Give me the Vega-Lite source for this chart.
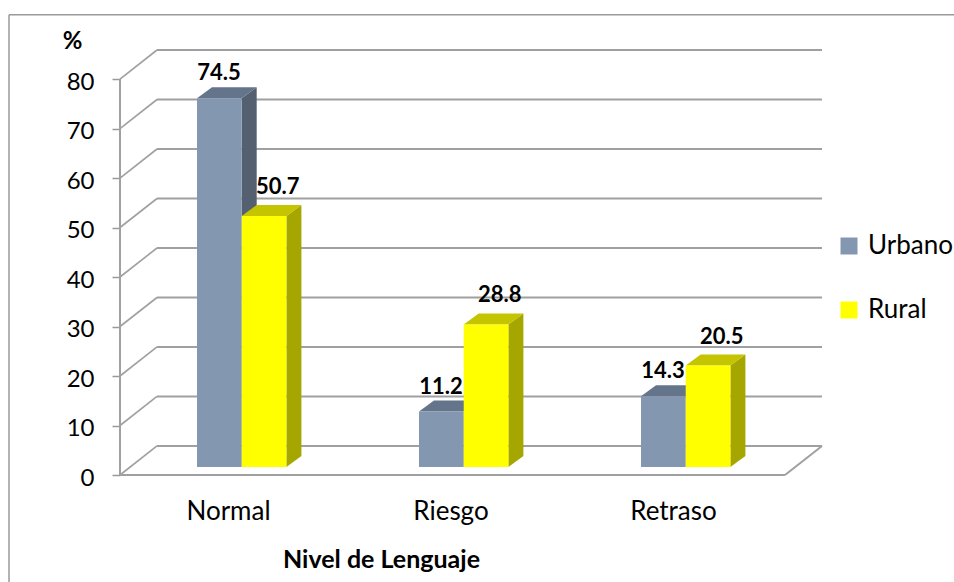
{
"$schema":"https://vega.github.io/schema/vega-lite/v6.json",
"width":702,"height":425,
"autosize":{"type":"none"},
"padding":{"left":120,"top":50,"right":132,"bottom":107},
"background":"white",
"config":{"view":{"stroke":null},"font":"Lato"},
"datasets":{
"bars":[
{"nivel":"Normal","serie":"Urbano","valor":74.5},
{"nivel":"Normal","serie":"Rural","valor":50.7},
{"nivel":"Riesgo","serie":"Urbano","valor":11.2},
{"nivel":"Riesgo","serie":"Rural","valor":28.8},
{"nivel":"Retraso","serie":"Urbano","valor":14.3},
{"nivel":"Retraso","serie":"Rural","valor":20.5}
],
"grid":[{"v":0},{"v":10},{"v":20},{"v":30},{"v":40},{"v":50},{"v":60},{"v":70},{"v":80}]
},
"data":{"name":"bars"},
"transform":[
{"calculate":"indexof(['Normal','Riesgo','Retraso'],datum.nivel)","as":"i"},
{"calculate":"datum.serie=='Rural'?1:0","as":"s"},
{"calculate":"77+222*datum.i+44.7*datum.s","as":"xl"},
{"calculate":"datum.xl+44.7","as":"xr"},
{"calculate":"1.62","as":"base"},
{"calculate":"1.62+datum.valor","as":"top"},
{"calculate":"datum.xl+22+14*datum.s","as":"lx"},
{"calculate":"datum.top+(datum.s?22:18)/4.95","as":"ly"}
],
"layer":[
{"data":{"values":[{"x":-111,"x2":834,"y":93,"y2":93},{"x":-111,"x2":-111,"y":93,"y2":-22}]},
 "mark":{"type":"rule","color":"#9A9A9A","strokeWidth":1.5,"clip":false},
 "encoding":{
  "x":{"field":"x","type":"quantitative","scale":{"domain":[0,702],"nice":false,"zero":false},
   "axis":{"values":[108,330.5,553],"labelExpr":"datum.value==108?'Normal':datum.value<400?'Riesgo':'Retraso'","domain":false,"ticks":false,"grid":false,"labelFontSize":26,"labelColor":"#000","labelPadding":23,"title":"Nivel de Lenguaje","titleFontSize":25,"titleFontWeight":"bold","titleColor":"#000","titleX":261,"titleY":72,"labelFlush":false,"labelOverlap":false}},
  "x2":{"field":"x2"},
  "y":{"field":"y","type":"quantitative","scale":{"domain":[0,85.86],"nice":false,"zero":false},
   "axis":{"values":[0,10,20,30,40,50,60,70,80],"domain":false,"grid":false,"tickColor":"#999","tickSize":8,"tickWidth":1.5,"labelFontSize":24,"labelColor":"#000","labelPadding":18,"labelOffset":3,"title":"%","titleFontSize":24,"titleFontWeight":"bold","titleColor":"#000","titleAngle":0,"titleX":-48,"titleY":3,"titleAlign":"center"}},
  "y2":{"field":"y2"}
 }},
{"data":{"name":"grid"},"transform":[{"calculate":"datum.v+5.86","as":"w"}],
 "mark":{"type":"rule","color":"#A0A0A0","strokeWidth":2},
 "encoding":{"x":{"datum":37,"type":"quantitative"},"x2":{"datum":702},"y":{"field":"w","type":"quantitative"}}},
{"data":{"name":"grid"},"transform":[{"calculate":"datum.v+5.86","as":"w"}],
 "mark":{"type":"rule","color":"#A0A0A0","strokeWidth":1.6},
 "encoding":{"x":{"datum":0,"type":"quantitative"},"x2":{"datum":37},"y":{"field":"v","type":"quantitative"},"y2":{"field":"w"}}},
{"data":{"values":[{"x":0,"x2":0,"y":0,"y2":80},{"x":0,"x2":665,"y":0,"y2":0},{"x":665,"x2":702,"y":0,"y2":5.86}]},
 "mark":{"type":"rule","color":"#A0A0A0","strokeWidth":2},
 "encoding":{"x":{"field":"x","type":"quantitative"},"x2":{"field":"x2"},"y":{"field":"y","type":"quantitative"},"y2":{"field":"y2"}}},
{"transform":[{"filter":"datum.s==0"},{"calculate":"[0,1]","as":"k"},{"flatten":["k"]},{"calculate":"datum.xr+15*datum.k","as":"ax"},{"calculate":"datum.base+2.22*datum.k","as":"ay"},{"calculate":"datum.top+2.22*datum.k","as":"ay2"}],
 "mark":{"type":"area","color":"#546070","orient":"vertical"},
 "encoding":{"x":{"field":"ax","type":"quantitative"},"y":{"field":"ay","type":"quantitative"},"y2":{"field":"ay2"},"detail":{"field":"nivel"}}},
{"transform":[{"filter":"datum.s==0"},{"calculate":"[0,1]","as":"k"},{"flatten":["k"]},{"calculate":"datum.xl+15*datum.k","as":"ax"},{"calculate":"datum.xr+15*datum.k","as":"ax2"},{"calculate":"datum.top+2.22*datum.k","as":"ay"}],
 "mark":{"type":"area","color":"#64748A","orient":"horizontal"},
 "encoding":{"y":{"field":"ay","type":"quantitative"},"x":{"field":"ax","type":"quantitative"},"x2":{"field":"ax2"},"detail":{"field":"nivel"}}},
{"transform":[{"filter":"datum.s==0"}],
 "mark":{"type":"rect"},
 "encoding":{"x":{"field":"xl","type":"quantitative"},"x2":{"field":"xr"},"y":{"field":"base","type":"quantitative"},"y2":{"field":"top"},
  "color":{"field":"serie","type":"nominal","scale":{"domain":["Urbano","Rural"],"range":["#8497B0","#FFFF00"]},
   "legend":{"orient":"none","legendX":716,"legendY":183,"title":null,"symbolType":"square","symbolSize":289,"symbolStrokeWidth":0,"labelFontSize":26,"labelColor":"#000","labelOffset":6,"rowPadding":38,"symbolOpacity":1}}}},
{"transform":[{"filter":"datum.s==1"},{"calculate":"[0,1]","as":"k"},{"flatten":["k"]},{"calculate":"datum.xr+15*datum.k","as":"ax"},{"calculate":"datum.base+2.22*datum.k","as":"ay"},{"calculate":"datum.top+2.22*datum.k","as":"ay2"}],
 "mark":{"type":"area","color":"#A6A600","orient":"vertical"},
 "encoding":{"x":{"field":"ax","type":"quantitative"},"y":{"field":"ay","type":"quantitative"},"y2":{"field":"ay2"},"detail":{"field":"nivel"}}},
{"transform":[{"filter":"datum.s==1"},{"calculate":"[0,1]","as":"k"},{"flatten":["k"]},{"calculate":"datum.xl+15*datum.k","as":"ax"},{"calculate":"datum.xr+15*datum.k","as":"ax2"},{"calculate":"datum.top+2.22*datum.k","as":"ay"}],
 "mark":{"type":"area","color":"#C4C400","orient":"horizontal"},
 "encoding":{"y":{"field":"ay","type":"quantitative"},"x":{"field":"ax","type":"quantitative"},"x2":{"field":"ax2"},"detail":{"field":"nivel"}}},
{"transform":[{"filter":"datum.s==1"}],
 "mark":{"type":"rect"},
 "encoding":{"x":{"field":"xl","type":"quantitative"},"x2":{"field":"xr"},"y":{"field":"base","type":"quantitative"},"y2":{"field":"top"},
  "color":{"field":"serie","type":"nominal"}}},
{"mark":{"type":"text","font":"Lato","fontSize":22,"fontWeight":"bold","color":"#000","baseline":"alphabetic","align":"center"},
 "encoding":{"x":{"field":"lx","type":"quantitative"},"y":{"field":"ly","type":"quantitative"},"text":{"field":"valor","type":"quantitative","format":".1f"}}}
]
}
